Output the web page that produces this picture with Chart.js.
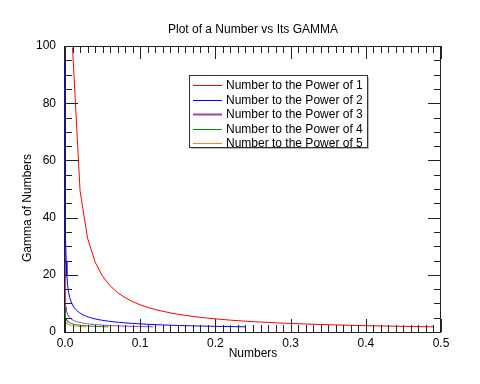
<!DOCTYPE html>
<html>
<head>
<meta charset="utf-8">
<script src="https://cdn.jsdelivr.net/npm/chart.js@4.4.1/dist/chart.umd.min.js"></script>
<style>
  html, body { margin: 0; padding: 0; background: #fff; }
  #wrap { width: 480px; height: 384px; }
</style>
</head>
<body>
<div id="wrap"><canvas id="chart" width="480" height="384"></canvas></div>
<script>
// the numbers 0.01 .. 0.49 and their gamma values
const numbers = [0.01, 0.02, 0.03, 0.04, 0.05, 0.06, 0.07, 0.08, 0.09, 0.10,
  0.11, 0.12, 0.13, 0.14, 0.15, 0.16, 0.17, 0.18, 0.19, 0.20,
  0.21, 0.22, 0.23, 0.24, 0.25, 0.26, 0.27, 0.28, 0.29, 0.30,
  0.31, 0.32, 0.33, 0.34, 0.35, 0.36, 0.37, 0.38, 0.39, 0.40,
  0.41, 0.42, 0.43, 0.44, 0.45, 0.46, 0.47, 0.48, 0.49];

const squares = [0.0001, 0.0004, 0.0009, 0.0016, 0.0025, 0.0036, 0.0049, 0.0064, 0.0081, 0.01,
  0.0121, 0.0144, 0.0169, 0.0196, 0.0225, 0.0256, 0.0289, 0.0324, 0.0361, 0.04,
  0.0441, 0.0484, 0.0529, 0.0576, 0.0625, 0.0676, 0.0729, 0.0784, 0.0841, 0.09,
  0.0961, 0.1024, 0.1089, 0.1156, 0.1225, 0.1296, 0.1369, 0.1444, 0.1521, 0.16,
  0.1681, 0.1764, 0.1849, 0.1936, 0.2025, 0.2116, 0.2209, 0.2304, 0.2401];

const cubes = [0.000001, 0.000008, 0.000027, 0.000064, 0.000125, 0.000216, 0.000343, 0.000512, 0.000729, 0.001,
  0.001331, 0.001728, 0.002197, 0.002744, 0.003375, 0.004096, 0.004913, 0.005832, 0.006859, 0.008,
  0.009261, 0.010648, 0.012167, 0.013824, 0.015625, 0.017576, 0.019683, 0.021952, 0.024389, 0.027,
  0.029791, 0.032768, 0.035937, 0.039304, 0.042875, 0.046656, 0.050653, 0.054872, 0.059319, 0.064,
  0.068921, 0.074088, 0.079507, 0.085184, 0.091125, 0.097336, 0.103823, 0.110592, 0.117649];

const fourths = [0.00000001, 0.00000016, 0.00000081, 0.00000256, 0.00000625, 0.00001296, 0.00002401, 0.00004096, 0.00006561, 0.0001,
  0.00014641, 0.00020736, 0.00028561, 0.00038416, 0.00050625, 0.00065536, 0.00083521, 0.00104976, 0.00130321, 0.0016,
  0.00194481, 0.00234256, 0.00279841, 0.00331776, 0.00390625, 0.00456976, 0.00531441, 0.00614656, 0.00707281, 0.0081,
  0.00923521, 0.01048576, 0.01185921, 0.01336336, 0.01500625, 0.01679616, 0.01874161, 0.02085136, 0.02313441, 0.0256,
  0.02825761, 0.03111696, 0.03418801, 0.03748096, 0.04100625, 0.04477456, 0.04879681, 0.05308416, 0.05764801];

const fifths = [0.0000000001, 0.0000000032, 0.0000000243, 0.0000001024, 0.0000003125, 0.0000007776, 0.0000016807, 0.0000032768, 0.0000059049, 0.00001,
  0.0000161051, 0.0000248832, 0.0000371293, 0.0000537824, 0.0000759375, 0.0001048576, 0.0001419857, 0.0001889568, 0.0002476099, 0.00032,
  0.0004084101, 0.0005153632, 0.0006436343, 0.0007962624, 0.0009765625, 0.0011881376, 0.0014348907, 0.0017210368, 0.0020511149, 0.00243,
  0.0028629151, 0.0033554432, 0.0039135393, 0.0045435424, 0.0052521875, 0.0060466176, 0.0069343957, 0.0079235168, 0.0090224199, 0.01024,
  0.0115856201, 0.0130691232, 0.0147008443, 0.0164916224, 0.0184528125, 0.0205962976, 0.0229345007, 0.0254803968, 0.0282475249];

const gammas = [99.433, 49.442, 32.785, 24.461, 19.470, 16.146, 13.774, 11.997, 10.616, 9.514,
  8.613, 7.863, 7.230, 6.689, 6.220, 5.811, 5.451, 5.132, 4.847, 4.591,
  4.360, 4.150, 3.960, 3.786, 3.626, 3.478, 3.343, 3.217, 3.100, 2.992,
  2.890, 2.796, 2.707, 2.624, 2.546, 2.473, 2.404, 2.338, 2.277, 2.218,
  2.163, 2.110, 2.061, 2.013, 1.968, 1.925, 1.884, 1.845, 1.808];

const seriesNames = ["Number to the Power of 1", "Number to the Power of 2", "Number to the Power of 3",
  "Number to the Power of 4", "Number to the Power of 5"];
const seriesX = [numbers, squares, cubes, fourths, fifths];
const seriesColors = ["#ff0000", "#0000ff", "#a040b0", "#009000", "#ff8030"];

const xTicks = [0, 0.1, 0.2, 0.3, 0.4, 0.5];
const yTicks = [0, 20, 40, 60, 80, 100];

const FONT = "'Liberation Sans', Arial, sans-serif";

const datasets = seriesNames.map((name, i) => ({
  label: name,
  data: seriesX[i].map((x, j) => ({ x: x, y: gammas[j] })),
  borderColor: seriesColors[i],
  backgroundColor: seriesColors[i],
  borderWidth: 1,
  pointRadius: 0,
  showLine: true,
  fill: false,
  tension: 0,
}));

// frame, inward ticks, titles and the boxed legend
const decorations = {
  id: "decorations",
  afterDraw(chart) {
    const c = chart.ctx;
    const a = chart.chartArea;
    const xs = chart.scales.x;
    const ys = chart.scales.y;
    c.save();
    c.strokeStyle = "#222";
    c.lineWidth = 1;
    c.strokeRect(Math.round(a.left) - 0.5, Math.round(a.top) + 0.5,
      Math.round(a.right - a.left), Math.round(a.bottom - a.top));

    c.beginPath();
    for (let i = 0; i <= 50; i++) {
      const px = Math.round(xs.getPixelForValue(i * 0.01)) + 0.5;
      const len = i % 10 === 0 ? 13 : 7;
      c.moveTo(px, a.bottom); c.lineTo(px, a.bottom - len);
      c.moveTo(px, a.top); c.lineTo(px, a.top + len);
    }
    for (let i = 0; i <= 20; i++) {
      const py = Math.round(ys.getPixelForValue(i * 5)) + 0.5;
      const len = i % 4 === 0 ? 13 : 7;
      c.moveTo(a.left, py); c.lineTo(a.left + len, py);
      c.moveTo(a.right, py); c.lineTo(a.right - len, py);
    }
    c.stroke();

    c.fillStyle = "#000";
    c.font = "12px " + FONT;
    c.textAlign = "center";
    c.textBaseline = "middle";
    c.fillText("Plot of a Number vs Its GAMMA", (a.left + a.right) / 2, 30);
    c.fillText("Numbers", (a.left + a.right) / 2, 354);
    c.save();
    c.translate(28, 208);
    c.rotate(-Math.PI / 2);
    c.fillText("Gamma of Numbers", 0, 0);
    c.restore();

    // legend box
    const bx = 189, by = 75, bw = 178, bh = 72;
    c.fillStyle = "#bbb";
    c.fillRect(bx + 2, by + 2, bw, bh);
    c.fillStyle = "#fff";
    c.fillRect(bx, by, bw, bh);
    c.strokeStyle = "#333";
    c.strokeRect(bx + 0.5, by + 0.5, bw, bh);
    c.textAlign = "left";
    seriesNames.forEach((name, i) => {
      const ry = by + 10 + i * 14.5;
      c.strokeStyle = seriesColors[i];
      c.lineWidth = i === 2 ? 2 : 1;
      c.beginPath();
      c.moveTo(bx + 4, Math.round(ry) + 0.5);
      c.lineTo(bx + 33, Math.round(ry) + 0.5);
      c.stroke();
      c.fillStyle = "#000";
      c.fillText(name, bx + 37, ry + 1);
    });
    c.restore();
  },
};

new Chart(document.getElementById("chart"), {
  type: "scatter",
  data: { datasets: datasets },
  plugins: [decorations],
  options: {
    responsive: false,
    animation: false,
    events: [],
    layout: { padding: { left: 0, top: 46, right: 39, bottom: 0 } },
    plugins: { legend: { display: false }, tooltip: { enabled: false }, title: { display: false } },
    scales: {
      x: {
        type: "linear",
        min: 0,
        max: 0.5,
        afterFit: (s) => { s.height = 52; },
        afterBuildTicks: (s) => { s.ticks = xTicks.map((v) => ({ value: v })); },
        grid: { display: false, drawTicks: false },
        border: { display: false },
        ticks: {
          padding: 4,
          color: "#000",
          font: { family: FONT, size: 12 },
          maxRotation: 0,
          callback: (v) => Number(v).toFixed(1),
        },
      },
      y: {
        type: "linear",
        min: 0,
        max: 100,
        afterFit: (s) => { s.width = 65; },
        afterBuildTicks: (s) => { s.ticks = yTicks.map((v) => ({ value: v })); },
        grid: { display: false, drawTicks: false },
        border: { display: false },
        ticks: {
          padding: 9,
          color: "#000",
          font: { family: FONT, size: 12 },
          callback: (v) => String(v),
        },
      },
    },
  },
});
</script>
</body>
</html>
